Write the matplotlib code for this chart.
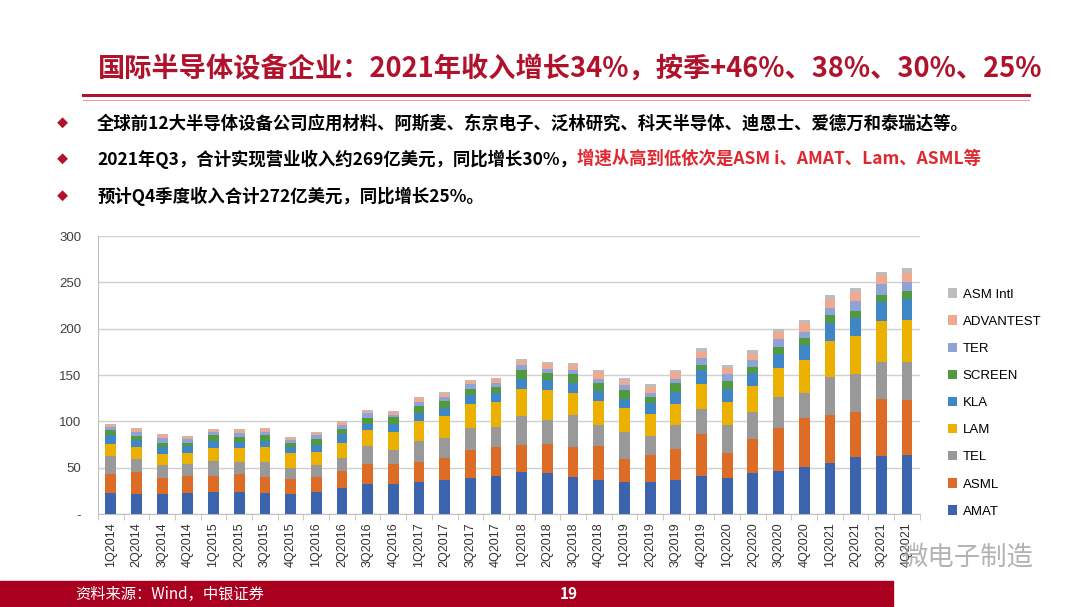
import numpy as np
import matplotlib
matplotlib.use("Agg")
import matplotlib.pyplot as plt
from matplotlib.lines import Line2D
from matplotlib.patches import Rectangle

plt.rcParams['font.family'] = ['Noto Sans CJK SC', 'DejaVu Sans']

# 季度
quarters = []
for jaar in range(2014, 2022):
    for q in range(1, 5):
        quarters.append("{}Q{}".format(q, jaar))

# 各公司季度收入（亿美元），从下往上堆叠
AMAT = [23, 22, 22, 23, 24, 24, 23, 22, 24, 28, 33, 32, 35, 37, 39, 41,
        45, 44, 40, 37, 35, 35, 37, 41, 39, 44, 47, 51, 55, 62, 63, 64]
ASML = [20, 23, 17, 18, 17, 19, 17, 16, 16, 19, 21, 22, 21, 24, 30, 31,
        30, 32, 32, 37, 25, 29, 33, 46, 27, 37, 46, 53, 52, 48, 61, 59]
TEL = [20, 14, 14, 13, 16, 13, 16, 12, 13, 14, 19, 15, 23, 21, 24, 22,
       31, 26, 35, 22, 29, 20, 26, 26, 30, 29, 33, 27, 41, 41, 40, 41]
LAM = [13, 13, 12, 12, 14, 15, 16, 16, 14, 16, 18, 20, 22, 24, 26, 27,
       29, 32, 24, 26, 25, 24, 23, 27, 25, 28, 32, 35, 39, 41, 44, 45]
KLA = [9, 8, 7, 7, 8, 7, 7, 6, 8, 9, 6, 8, 8, 9, 10, 10,
       11, 11, 11, 11, 10, 12, 13, 15, 14, 14, 15, 16, 19, 20, 21, 23]
SCREEN = [6, 4, 5, 4, 6, 5, 6, 5, 6, 6, 7, 8, 8, 7, 6, 6,
          10, 7, 9, 8, 10, 6, 9, 6, 9, 7, 7, 8, 9, 7, 8, 9]
TER = [3, 5, 5, 4, 4, 5, 4, 3, 4, 4, 5, 2, 4, 4, 5, 4,
       5, 5, 4, 5, 5, 5, 5, 7, 7, 7, 9, 7, 7, 11, 11, 9]
ADVANTEST = [2, 3, 3, 2, 2, 3, 3, 2, 3, 3, 2, 3, 4, 4, 4, 5,
             4, 5, 6, 7, 5, 6, 7, 7, 7, 7, 8, 9, 10, 10, 10, 10]
ASM_Intl = [1.5, 1, 1, 1, 1, 1, 1, 1, 1, 1, 1, 1, 1, 2, 1, 1,
            2, 2, 2, 2, 3, 3, 3, 4, 3, 4, 3, 3, 4, 4, 3, 6]

reeksen = [("AMAT", AMAT, '#3C64AE'),
           ("ASML", ASML, '#DD6D26'),
           ("TEL", TEL, '#999999'),
           ("LAM", LAM, '#EBB000'),
           ("KLA", KLA, '#3F86C6'),
           ("SCREEN", SCREEN, '#519A3E'),
           ("TER", TER, '#8EA4D8'),
           ("ADVANTEST", ADVANTEST, '#F0A88E'),
           ("ASM Intl", ASM_Intl, '#BDBDBD')]

rood = '#B0122B'

fig = plt.figure(figsize=(10.8, 6.07), dpi=100)
ax = fig.add_axes([0.0907, 0.153, 0.761, 0.458])

x = np.arange(len(quarters))
onder = np.zeros(len(quarters))
for naam, waarden, kleur in reeksen:
    ax.bar(x, waarden, 0.42, bottom=onder, color=kleur, label=naam, zorder=3)
    onder = onder + np.array(waarden)

ax.set_xlim(-0.5, len(quarters) - 0.5)
ax.set_ylim(0, 300)
ax.set_yticks([0, 50, 100, 150, 200, 250, 300])
ax.set_yticklabels(['-', '50', '100', '150', '200', '250', '300'],
                   fontsize=9.5, color='#404040', family=['Liberation Sans'])
ax.yaxis.grid(True, color='#D0D0D0', linewidth=1, zorder=0)
ax.tick_params(axis='y', length=0, pad=12)
ax.set_xticks(x)
ax.set_xticklabels(quarters, rotation=90, fontsize=9, color='#303030',
                   family=['Liberation Sans'])
ax.set_xticks(np.arange(len(quarters) + 1) - 0.5, minor=True)
ax.tick_params(axis='x', which='major', length=0, pad=6)
ax.tick_params(axis='x', which='minor', length=4, color='#BFBFBF')
for s in ['top', 'right']:
    ax.spines[s].set_visible(False)
ax.spines['left'].set_color('#BFBFBF')
ax.spines['bottom'].set_color('#BFBFBF')

handles, labels = ax.get_legend_handles_labels()
leg = ax.legend(handles[::-1], labels[::-1], loc='upper left',
                bbox_to_anchor=(1.02, 0.855), frameon=False,
                handlelength=0.7, handleheight=0.7, handletextpad=0.4,
                labelspacing=1.13, prop={'family': ['Liberation Sans'], 'size': 9.5})

# titel
fig.text(0.528, 0.885, "国际半导体设备企业：2021年收入增长34%，按季+46%、38%、30%、25%",
         ha='center', va='center', fontsize=19.6, fontweight='bold', color=rood)
fig.add_artist(Line2D([0.077, 0.953], [0.843, 0.843], color=rood, linewidth=2.2))
fig.add_artist(Line2D([0.077, 0.953], [0.836, 0.836], color='#E8A0A8', linewidth=0.8))

# opsommingstekens
regels_y = [0.797, 0.738, 0.677]
for yy in regels_y:
    fig.text(0.058, yy, "◆", ha='center', va='center', fontsize=8, color=rood)

fs = 12.5
fig.text(0.090, regels_y[0], "全球前12大半导体设备公司应用材料、阿斯麦、东京电子、泛林研究、科天半导体、迪恩士、爱德万和泰瑞达等。",
         ha='left', va='center', fontsize=fs, fontweight='bold', color='black')
t1 = fig.text(0.090, regels_y[1], "2021年Q3，合计实现营业收入约269亿美元，同比增长30%，",
              ha='left', va='center', fontsize=fs, fontweight='bold', color='black')
ax.annotate("增速从高到低依次是ASM i、AMAT、Lam、ASML等", xy=(1, 0.5), xycoords=t1,
            ha='left', va='center', fontsize=fs, fontweight='bold', color='#E0262E',
            annotation_clip=False)
fig.text(0.090, regels_y[2], "预计Q4季度收入合计272亿美元，同比增长25%。",
         ha='left', va='center', fontsize=fs, fontweight='bold', color='black')

# voettekst
fig.add_artist(Rectangle((0, 0), 0.827, 0.043, transform=fig.transFigure,
                         color='#A8001E', zorder=0))
fig.text(0.070, 0.021, "资料来源：Wind，中银证券", ha='left', va='center',
         fontsize=11, color='white')
fig.text(0.527, 0.021, "19", ha='center', va='center', fontsize=11,
         fontweight='bold', color='white')
fig.text(0.835, 0.082, "微电子制造", ha='left', va='center', fontsize=19,
         color='#A0A0A0', alpha=0.8)

fig.savefig("out.png", dpi=100)
